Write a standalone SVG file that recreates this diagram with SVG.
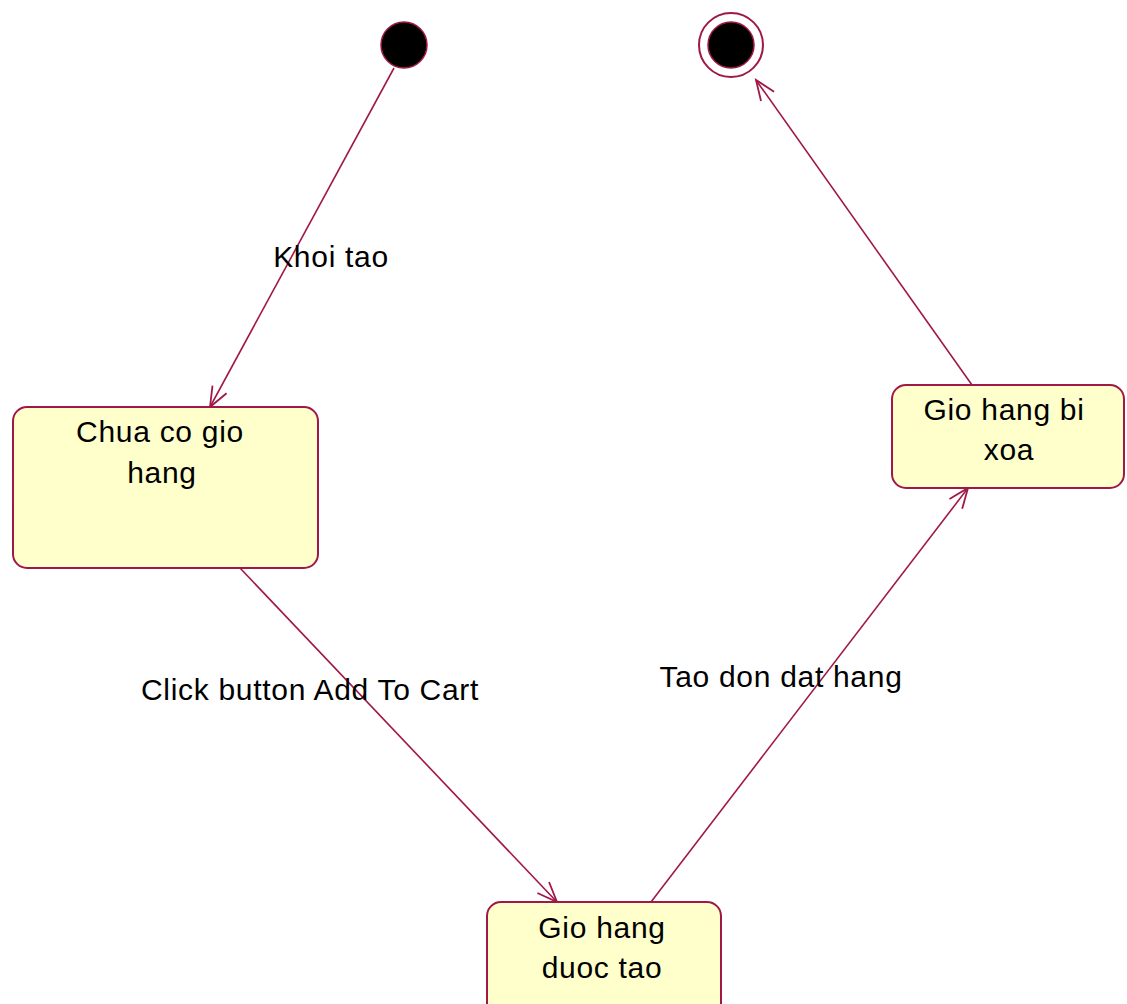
<svg xmlns="http://www.w3.org/2000/svg" width="1127" height="1004" viewBox="0 0 1127 1004">
<style>
.st{fill:#FFFFCC;stroke:#A01848;stroke-width:2}
.t{font-family:"Liberation Sans",Arial,sans-serif;font-size:30px;fill:#000;text-anchor:middle;letter-spacing:0.7px}
.c{stroke:#A01848;stroke-width:1.6;fill:none}
</style>
<defs>
<marker id="arr" markerUnits="userSpaceOnUse" orient="auto" refX="0" refY="0" markerWidth="40" markerHeight="40" viewBox="-30 -15 40 30" overflow="visible">
<path d="M-20,-8 L0,0 L-20,8" fill="none" stroke="#A01848" stroke-width="1.8"/>
</marker>
</defs>
<rect width="1127" height="1004" fill="#fff"/>
<g id="connectors">
<line class="c" x1="394" y1="68" x2="210" y2="407" marker-end="url(#arr)"/>
<line class="c" x1="240" y1="568" x2="557" y2="902" marker-end="url(#arr)"/>
<line class="c" x1="651" y1="902" x2="968" y2="488" marker-end="url(#arr)"/>
<line class="c" x1="972" y1="385" x2="756" y2="80" marker-end="url(#arr)"/>
<text class="t" x="331" y="267">Khoi tao</text>
<text class="t" x="310" y="700">Click button Add To Cart</text>
<text class="t" x="781" y="687">Tao don dat hang</text>
</g>
<g id="initial">
<circle cx="404" cy="45" r="23" fill="#000" stroke="#A01848" stroke-width="1.5"/>
</g>
<g id="final">
<circle cx="731" cy="45" r="32" fill="none" stroke="#A01848" stroke-width="2"/>
<circle cx="731" cy="45" r="23" fill="#000" stroke="#A01848" stroke-width="1.5"/>
</g>
<g id="chua-co-gio-hang">
<rect class="st" x="13" y="407" width="305" height="161" rx="14"/>
<text class="t" x="160" y="442">Chua co gio</text>
<text class="t" x="162" y="483">hang</text>
</g>
<g id="gio-hang-bi-xoa">
<rect class="st" x="892" y="385" width="232" height="103" rx="14"/>
<text class="t" x="1004" y="420">Gio hang bi</text>
<text class="t" x="1009" y="460">xoa</text>
</g>
<g id="gio-hang-duoc-tao">
<rect class="st" x="487" y="902" width="234" height="115" rx="14"/>
<text class="t" x="602" y="938">Gio hang</text>
<text class="t" x="602" y="978">duoc tao</text>
</g>
</svg>
